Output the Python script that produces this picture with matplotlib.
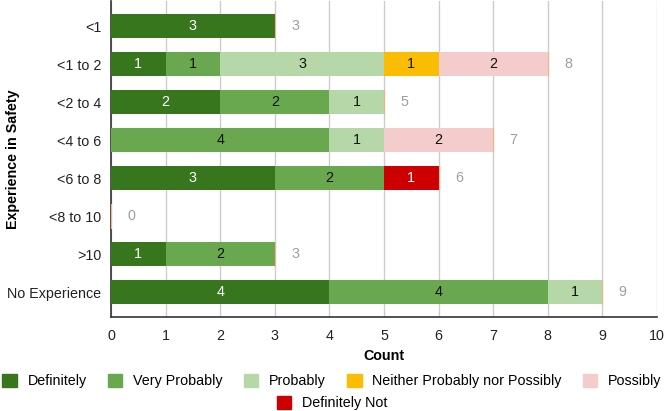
import matplotlib
matplotlib.use("Agg")
import matplotlib.pyplot as plt
from matplotlib.patches import Patch
import numpy as np

plt.rcParams['font.family'] = ['Liberation Sans', 'DejaVu Sans']

categories = ["<1", "<1 to 2", "<2 to 4", "<4 to 6", "<6 to 8", "<8 to 10", ">10", "No Experience"]
series_names = ["Definitely", "Very Probably", "Probably", "Neither Probably nor Possibly", "Possibly", "Definitely Not"]
definitely = [3, 1, 2, 0, 3, 0, 1, 4]
very_probably = [0, 1, 2, 4, 2, 0, 2, 4]
probably = [0, 3, 1, 1, 0, 0, 0, 1]
neither = [0, 1, 0, 0, 0, 0, 0, 0]
possibly = [0, 2, 0, 2, 0, 0, 0, 0]
definitely_not = [0, 0, 0, 0, 1, 0, 0, 0]
series = [definitely, very_probably, probably, neither, possibly, definitely_not]
colors = ["#38761d", "#6aa84f", "#b6d7a8", "#fbbc04", "#f4cccc", "#cc0000"]
label_colors = ["white", "#111111", "#111111", "#111111", "#111111", "white"]

FS = 10.3
fig = plt.figure(figsize=(6.64, 4.11), dpi=100)
ax = fig.add_axes([111/664, 1 - 317/411, (657-111)/664, 316/411])

y = np.arange(len(categories))
left = np.zeros(len(categories))
for vals, c, lc in zip(series, colors, label_colors):
    v = np.array(vals, dtype=float)
    ax.barh(y, v, left=left, color=c, height=0.63, zorder=3)
    for i in range(len(v)):
        if v[i] > 0:
            ax.text(left[i] + v[i] / 2, y[i], f"{int(v[i])}", ha="center", va="center",
                    color=lc, fontsize=FS, zorder=4)
    left += v

totals = left
for i, t in enumerate(totals):
    ax.text(t + 0.3, y[i], f"{int(t)}", ha="left", va="center", color="#9e9e9e", fontsize=FS)
    ax.plot([t, t], [y[i] - 0.315, y[i] + 0.315], color="#f1b38a", lw=0.8, zorder=3)

ax.set_xlim(0, 10)
ax.set_ylim(7 + 25/38, -25/38)
ax.set_xticks(range(0, 11))
ax.set_yticks(y)
ax.set_yticklabels(categories)
ax.tick_params(axis='both', length=0, labelsize=FS, colors="#222222")
ax.tick_params(axis='x', pad=9)
ax.tick_params(axis='y', pad=7)
ax.grid(axis='x', color="#cccccc", lw=1, zorder=0)
for s in ["top", "right"]:
    ax.spines[s].set_visible(False)
for s in ["left", "bottom"]:
    ax.spines[s].set_color("#333333")
    ax.spines[s].set_linewidth(1.2)
ax.set_xlabel("Count", fontweight="bold", fontsize=FS, labelpad=4)
ax.set_ylabel("Experience in Safety", fontweight="bold", fontsize=FS)
ax.yaxis.set_label_coords((20 - 111) / 546, 0.5)

handles = [Patch(facecolor=c, edgecolor=c) for c in colors]
fig.legend(handles[:5], series_names[:5], loc="center", bbox_to_anchor=(0.5, 1 - 381/411),
           ncol=5, frameon=False, fontsize=FS, handlelength=1.0, handleheight=1.0,
           columnspacing=1.5, handletextpad=0.75, borderaxespad=0, borderpad=0)
fig.legend(handles[5:], series_names[5:], loc="center", bbox_to_anchor=(0.5, 1 - 403/411),
           ncol=1, frameon=False, fontsize=FS, handlelength=1.0, handleheight=1.0,
           handletextpad=0.75, borderaxespad=0, borderpad=0)

fig.savefig("out.png", dpi=100)
